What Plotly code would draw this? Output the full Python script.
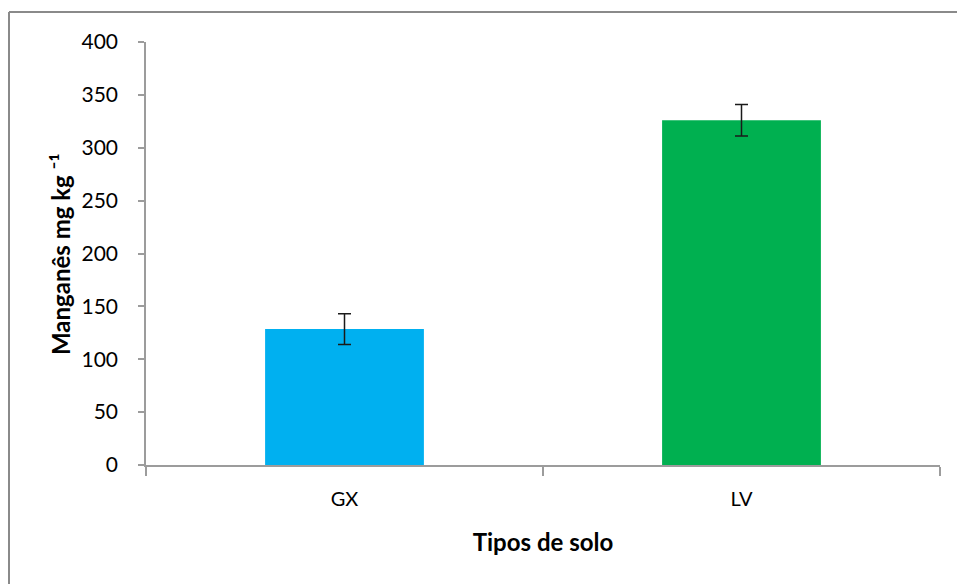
import plotly.graph_objects as go

categories = ["GX", "LV"]
values = [128.5, 326.0]
errors = [14.5, 15.0]
colors = ["#00B0F0", "#00B050"]
y_ticks = [0, 50, 100, 150, 200, 250, 300, 350, 400]

FONT = "Lato, Carlito, 'Liberation Sans', sans-serif"

# plot area in page pixels (page body margin removed via post_script)
L, T, R, B = 146, 42, 940, 465
W, H = 957, 584
PW, PH = R - L, B - T

fig = go.Figure()
fig.add_trace(go.Bar(
    x=categories, y=values,
    marker=dict(color=colors, line=dict(width=0)),
    error_y=dict(type="data", array=errors, visible=True,
                 color="#1a1a1a", thickness=1.5, width=6.5),
    width=0.4,
))

axis_color = "#9c9c9c"
border = dict(color="#8a8a8a", width=2)
bx0 = (9 - L) / PW
bx1 = (W + 20 - L) / PW
by1 = 1 + (T - 12) / PH
by0 = (B - H - 20) / PH

fig.update_layout(
    width=W, height=H,
    margin=dict(l=L, r=W - R, t=T, b=H - B),
    paper_bgcolor="white", plot_bgcolor="white",
    showlegend=False,
    font=dict(family=FONT, color="black"),
    xaxis=dict(
        showline=True, linecolor=axis_color, linewidth=1.5,
        ticks="outside", ticklen=9, tickcolor=axis_color, tickwidth=1.5,
        tickson="boundaries",
        tickfont=dict(size=20, family=FONT),
        ticklabelstandoff=15,
        showgrid=False, zeroline=False,
        title=dict(text="<b>Tipos de solo</b>", font=dict(size=24, family=FONT), standoff=25),
    ),
    yaxis=dict(
        range=[0, 400], tickvals=y_ticks,
        showline=True, linecolor=axis_color, linewidth=1.5,
        ticks="outside", ticklen=6, tickcolor=axis_color, tickwidth=1.5,
        tickfont=dict(size=21, family=FONT),
        ticklabelstandoff=16,
        showgrid=False, zeroline=False,
    ),
    annotations=[dict(
        text="<b>Manganês mg kg ⁻¹</b>", textangle=-90,
        xref="paper", yref="paper", x=(60 - L) / PW, y=(B - 254) / PH,
        xanchor="center", yanchor="middle", showarrow=False,
        font=dict(size=24, family=FONT, color="black"),
    )],
    shapes=[
        dict(type="line", xref="paper", yref="paper",
             x0=bx0, x1=bx1, y0=by1, y1=by1, line=border, layer="below"),
        dict(type="line", xref="paper", yref="paper",
             x0=bx0, x1=bx0, y0=by0, y1=by1, line=border, layer="below"),
    ],
)

fig.write_html(
    "out.html",
    config={"displayModeBar": False},
    post_script="document.body.style.margin='0';document.body.style.overflow='hidden';",
)
